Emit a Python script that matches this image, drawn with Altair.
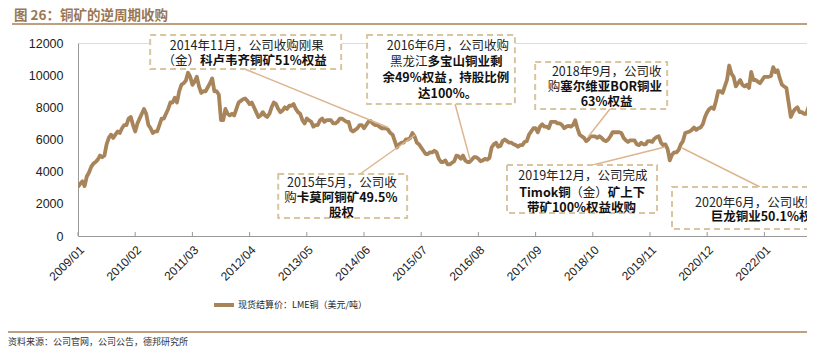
import altair as alt
import pandas as pd

# ---------------- data (half-month readings, USD/t) ----------------
SERIES = "现货结算价：LME铜（美元/吨）"
years = list(range(2009, 2024))
p2009 = [3050, 3250, 3400, 3100, 3700, 3950, 4300, 4500, 4600, 4750, 5000, 4900,
         5000, 5700, 6100, 6300, 6100, 6300, 6500, 6400, 6700, 6900, 6900, 7300]
p2010 = [7400, 6900, 6500, 7000, 7300, 7600, 7900, 7600, 6900, 6700, 6400, 6500,
         6500, 6900, 7300, 7300, 7600, 7900, 8300, 8300, 8600, 8300, 9000, 9400]
p2011 = [9500, 9650, 10150, 9900, 9400, 9600, 9900, 9300, 8900, 9000, 9000, 9250,
         9500, 9800, 9000, 9000, 8800, 7200, 7200, 7900, 7600, 7500, 7600, 7500]
p2012 = [7900, 8300, 8400, 8500, 8550, 8400, 8200, 8300, 8000, 7700, 7400, 7500,
         7700, 7500, 7400, 7600, 8000, 8300, 8200, 7900, 7700, 7800, 8000, 7900]
p2013 = [8100, 8100, 8200, 7900, 7700, 7600, 7200, 7000, 7300, 7200, 7100, 6800,
         6900, 6900, 7200, 7300, 7100, 7200, 7200, 7200, 7000, 7000, 7100, 7300]
p2014 = [7300, 7200, 7100, 7100, 6600, 6500, 6600, 6700, 6900, 6900, 6700, 6900,
         7100, 7150, 7000, 6900, 6900, 6800, 6700, 6700, 6700, 6600, 6400, 6300]
p2015 = [5900, 5500, 5700, 5800, 5800, 6000, 6000, 6100, 6400, 6200, 5800, 5700,
         5500, 5300, 5100, 5100, 5200, 5200, 5300, 5200, 4800, 4600, 4600, 4700]
p2016 = [4450, 4450, 4550, 4650, 5000, 4950, 4800, 5000, 4700, 4600, 4600, 4750,
         4900, 4900, 4800, 4650, 4700, 4800, 4750, 4850, 5500, 5700, 5800, 5550]
p2017 = [5600, 5900, 6000, 5900, 5800, 5800, 5700, 5650, 5550, 5650, 5650, 5850,
         5900, 6300, 6500, 6700, 6700, 6450, 6800, 6950, 6800, 6800, 6700, 7100]
p2018 = [7100, 7100, 7000, 7000, 6900, 6700, 6800, 6850, 6800, 6900, 7200, 6700,
         6300, 6200, 6100, 5900, 6000, 6200, 6200, 6200, 6100, 6200, 6100, 5950]
p2019 = [5900, 6000, 6200, 6450, 6450, 6450, 6450, 6400, 6100, 5950, 5850, 5950,
         5950, 5950, 5700, 5650, 5800, 5700, 5700, 5900, 5900, 5850, 6050, 6150]
p2020 = [6200, 5800, 5650, 5700, 5400, 4700, 5050, 5200, 5200, 5350, 5700, 5900,
         6400, 6450, 6500, 6600, 6750, 6600, 6700, 6750, 6950, 7400, 7700, 7900]
p2021 = [8000, 7900, 8400, 9000, 9000, 8900, 9300, 9700, 10600, 10100, 9900, 9300,
         9500, 9700, 9400, 9300, 9400, 9200, 10200, 9700, 9700, 9600, 9500, 9700]
p2022 = [9900, 9900, 9900, 9950, 10500, 10200, 10300, 9800, 9400, 9300, 9200, 8300,
         7400, 7700, 7900, 8000, 7700, 7700, 7600, 7600, 8000, 8100, 8400, 8400]
p2023 = [8900, 9300, 8900]
prices = [p2009, p2010, p2011, p2012, p2013, p2014, p2015, p2016, p2017,
          p2018, p2019, p2020, p2021, p2022, p2023]

tick_months = list(range(0, 157, 13))      # 2009/01, 2010/02, ... 2022/01
y_ticks = [0, 2000, 4000, 6000, 8000, 10000, 12000]

TITLE = "图 26：铜矿的逆周期收购"
SOURCE = "资料来源：公司官网，公司公告，德邦研究所"

# annotations: box (x1, x2 in months; y top, y bottom in USD/t), text centre, lines, connector
annotations = [
    dict(box=(16.4, 59.8, 12497, 10383), cx=38.4,
         lines=[(11813, [("2014年11月，公司收购刚果", False)]),
                (10881, [("（金）", False), ("科卢韦齐铜矿51%权益", True)])],
         conn=((37.9, 10383), (70.5, 6750))),
    dict(box=(65.7, 99.3, 12497, 8207), cx=84.1,
         lines=[(11813, [("2016年6月，公司收购", False)]),
                (10819, [("黑龙江", False), ("多宝山铜业剩", True)]),
                (9824, [("余49%权益，持股比例", True)]),
                (8829, [("达100%。", True)])],
         conn=((85.7, 8207), (89.1, 4750))),
    dict(box=(103.9, 133.9, 10819, 7896), cx=120.2,
         lines=[(10197, [("2018年9月，公司收", False)]),
                (9264, [("购", False), ("塞尔维亚BOR铜业", True)]),
                (8332, [("63%权益", True)])],
         conn=((120.9, 7896), (115.9, 6155))),
    dict(box=(45.5, 74.8, 3855, 1119), cx=60.0,
         lines=[(3295, [("2015年5月，公司收", False)]),
                (2363, [("购", False), ("卡莫阿铜矿49.5%", True)]),
                (1430, [("股权", True)])],
         conn=((64.1, 3855), (76.6, 6280))),
    dict(box=(97.5, 131.6, 4414, 1430), cx=114.8,
         lines=[(3731, [("2019年12月，公司完成", False)]),
                (2674, [("Timok铜", True), ("（金）", False), ("矿上下", True)]),
                (1741, [("带矿100%权益收购", True)])],
         conn=((117.0, 4414), (133.4, 5534))),
    dict(box=(135.0, 180.0, 3047, 435), cx=157.0,
         lines=[(2052, [("2020年6月，公司收购西藏", False)]),
                (1181, [("巨龙铜业50.1%权益", True)])],
         conn=((155.0, 3047), (137.3, 5472))),
]

# ---------------- styles ----------------
PXM = 4.4                 # pixels per month
W, H = 729, 193
X_MAX = W / PXM
LINE_C = "#A8845A"
BOX_C = "#D8C6A0"
CONN_C = "#DDB58F"
BROWN = "#9A7753"
RULE_C = "#BFA07E"
AXIS_C = "#999999"
CJK = "Noto Sans CJK SC"
LAT = "Liberation Sans"
FS = 12.5

rows = []
for yr, vals in zip(years, prices):
    for i, v in enumerate(vals):
        rows.append({"m": (yr - 2009) * 12 + i / 2, "v": v, "s": SERIES})
df = pd.DataFrame(rows)


def text_w(s, size, bold):
    w = 0.0
    for c in s:
        if ord(c) >= 0x2E80 or c in "，。（）：":
            w += size
        elif c.isdigit():
            w += 0.56 * size
        elif c == "%":
            w += 0.88 * size
        elif c == ".":
            w += 0.29 * size
        elif c.isupper():
            w += 0.68 * size
        else:
            w += 0.55 * size
    return w * (1.05 if bold else 1.0)


box_rows, txt_rows, conn_rows = [], [], []
for a in annotations:
    x1, x2, yt, yb = a["box"]
    box_rows.append({"x1": x1, "x2": x2, "y1": yt, "y2": yb})
    (cx0, cy0), (cx1, cy1) = a["conn"]
    conn_rows.append({"x": cx0, "y": cy0, "x2": cx1, "y2": cy1})
    for ly, segs in a["lines"]:
        total = sum(text_w(t, FS, b) for t, b in segs)
        off = -total / 2
        for t, b in segs:
            txt_rows.append({"x": a["cx"] + off / PXM, "y": ly, "t": t, "b": b})
            off += text_w(t, FS, b)

boxes = pd.DataFrame(box_rows)
texts = pd.DataFrame(txt_rows)
conns = pd.DataFrame(conn_rows)

xs = alt.Scale(domain=[0, X_MAX], nice=False, zero=False)
ys = alt.Scale(domain=[0, 12000], nice=False, zero=True)

label_expr = ("'' + (2009 + floor(datum.value / 12)) + '/' + "
              "((datum.value % 12) + 1 < 10 ? '0' : '') + ((datum.value % 12) + 1)")

x_axis = alt.Axis(
    values=tick_months, labelExpr=label_expr, labelAngle=315, labelAlign="right",
    labelBaseline="top", ticks=False, labelPadding=8, domainColor=AXIS_C,
    domainWidth=1, labelFont=LAT, labelFontSize=12, labelColor="#222222",
    grid=False, title=None, labelOverlap=False, labelFlush=False, labelBound=False)
y_axis = alt.Axis(
    values=y_ticks, format="d", ticks=False, labelPadding=15, domainColor=AXIS_C,
    domainWidth=1, labelFont=LAT, labelFontSize=12.5, labelColor="#222222",
    grid=False, title=None)


def X(field):
    return alt.X(field, scale=xs, axis=x_axis)


def Y(field):
    return alt.Y(field, scale=ys, axis=y_axis)


line = alt.Chart(df).mark_line(strokeWidth=3.8, clip=True, strokeJoin="round").encode(
    x=X("m:Q"), y=Y("v:Q"),
    color=alt.Color("s:N", scale=alt.Scale(range=[LINE_C]), legend=alt.Legend(
        orient="none", legendX=134, legendY=250, title=None, symbolType="stroke",
        symbolStrokeWidth=4, symbolSize=400, labelFont=CJK, labelFontSize=9,
        labelColor="#222222", padding=0, labelOffset=2)),
)

xticks = alt.Chart(pd.DataFrame({"m": tick_months})).mark_rule(
    color=AXIS_C, strokeWidth=1).encode(
    x=X("m:Q"), y=alt.value(H - 4), y2=alt.value(H))

conn_layer = alt.Chart(conns).mark_rule(color=CONN_C, strokeWidth=1.5).encode(
    x=X("x:Q"), y=Y("y:Q"), x2="x2:Q", y2="y2:Q")

box_layer = alt.Chart(boxes).mark_rect(
    fill="white", stroke=BOX_C, strokeWidth=2, strokeDash=[6, 4]).encode(
    x=X("x1:Q"), x2="x2:Q", y=Y("y1:Q"), y2="y2:Q")

txt_norm = alt.Chart(texts[~texts["b"]]).mark_text(
    align="left", baseline="middle", font=CJK, fontSize=FS, color="#222222").encode(
    x=X("x:Q"), y=Y("y:Q"), text="t:N")

txt_bold = alt.Chart(texts[texts["b"]]).mark_text(
    align="left", baseline="middle", font=CJK, fontSize=FS, fontWeight="bold",
    color="#111111").encode(x=X("x:Q"), y=Y("y:Q"), text="t:N")

title = alt.Chart(pd.DataFrame({"t": [TITLE]})).mark_text(
    align="left", baseline="middle", font=CJK, fontSize=13.5, fontWeight="bold",
    color=BROWN).encode(x=alt.value(-64), y=alt.value(-27.5), text="t:N")

title_rule = alt.Chart(pd.DataFrame({"a": [0]})).mark_rule(
    color=RULE_C, strokeWidth=2).encode(
    x=alt.value(-66), x2=alt.value(W), y=alt.value(-19))

bottom_rule = alt.Chart(pd.DataFrame({"a": [0]})).mark_rule(
    color=RULE_C, strokeWidth=2).encode(
    x=alt.value(-70), x2=alt.value(W), y=alt.value(289))

source = alt.Chart(pd.DataFrame({"t": [SOURCE]})).mark_text(
    align="left", baseline="middle", font=CJK, fontSize=9,
    color="#333333").encode(x=alt.value(-70), y=alt.value(299), text="t:N")

chart = alt.layer(
    line, xticks, conn_layer, box_layer, txt_norm, txt_bold,
    title, title_rule, bottom_rule, source
).properties(
    width=W, height=H,
    autosize=alt.AutoSizeParams(type="none"),
    padding={"left": 70, "top": 35, "right": 0, "bottom": 112},
).configure_view(stroke=None).configure(background="white")

chart.save("out.html", embed_options={"renderer": "svg", "actions": False})
